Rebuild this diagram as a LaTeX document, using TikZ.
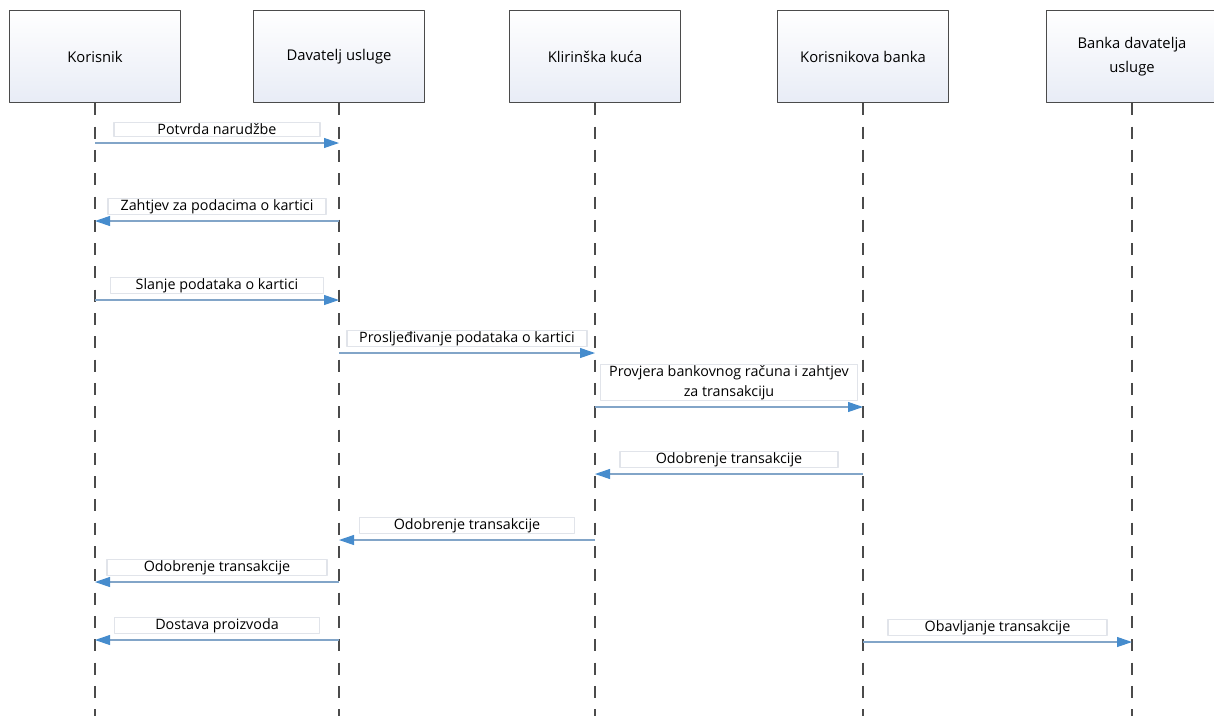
\documentclass[tikz,border=0pt]{standalone}
\usepackage{fontspec}
\setmainfont{Open Sans}
\usetikzlibrary{arrows.meta}
\definecolor{lineblue}{RGB}{130,165,200}
\definecolor{tipblue}{RGB}{70,140,205}
\definecolor{boxgray}{RGB}{75,75,75}
\definecolor{boxshade}{RGB}{232,236,246}
\definecolor{lblgray}{RGB}{225,228,234}
\begin{document}
\begin{tikzpicture}[x=1pt,y=-1pt,line join=round,
	actor/.style={draw=boxgray,line width=1.3pt,top color=white,bottom color=boxshade,minimum width=171pt,minimum height=92pt,anchor=north,align=center,inner sep=0pt,font=\fontsize{14.8}{24}\selectfont},
	life/.style={boxgray,line width=1.4pt,dash pattern=on 12pt off 11.3pt},
	msg/.style={lineblue,line width=1.1pt,-{Triangle[length=15pt,width=10pt,color=tipblue,fill=tipblue]}},
	lbl/.style={draw=lblgray,fill=white,text=black,inner xsep=0pt,inner ysep=1pt,minimum height=14pt,align=center,font=\fontsize{14.3}{20}\selectfont}]
	\useasboundingbox (0,0) rectangle (1214,716);
	\foreach \n/\x/\t in {kor/95/Korisnik,dav/339/Davatelj usluge,kli/595/Klirinška kuća,kb/863/Korisnikova banka,bd/1132/{Banka davatelja\\usluge}}{
		\node[actor](\n) at (\x,10){\t};
		\coordinate(\n-end) at (\x,716);
		\draw[life](\n)--(\n-end);
	}
	\foreach \a/\b/\y/\w/\t in {kor/dav/143/206/Potvrda narudžbe,dav/kor/221/218/Zahtjev za podacima o kartici,kor/dav/300/213/Slanje podataka o kartici,dav/kli/353/240/Prosljeđivanje podataka o kartici,kli/kb/407/257/{Provjera bankovnog računa i zahtjev\\za transakciju},kb/kli/474/218/Odobrenje transakcije,kli/dav/540/215/Odobrenje transakcije,dav/kor/582/220/Odobrenje transakcije,dav/kor/640/205/Dostava proizvoda,kb/bd/642/219/Obavljanje transakcije}
		\draw[msg](\a|-0,\y)--(\b|-0,\y)node[lbl,midway,above=6pt,minimum width=\w pt]{\t};
\end{tikzpicture}
\end{document}
